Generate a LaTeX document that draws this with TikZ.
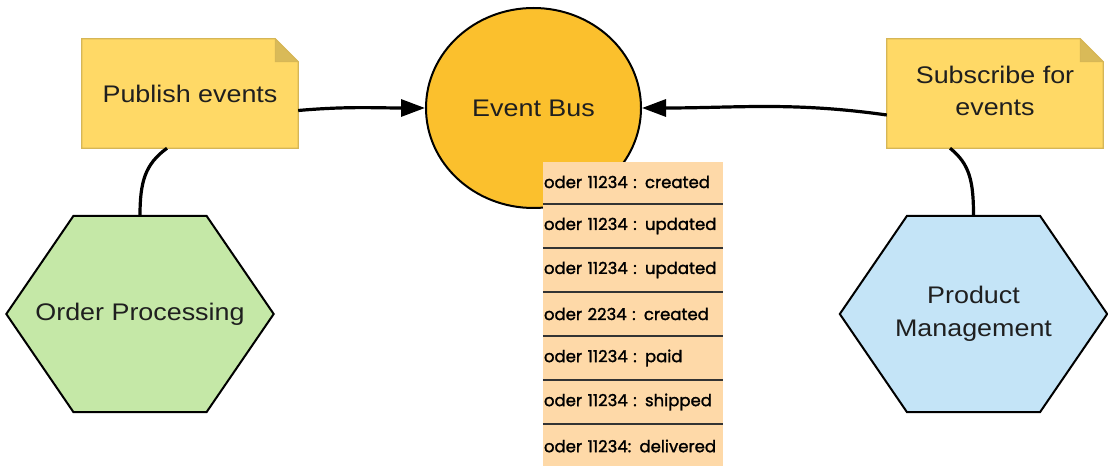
\documentclass[tikz,border=0pt]{standalone}
\usepackage{fontspec}
\usepackage{graphicx}
\setmainfont{Liberation Sans}
\newfontfamily\logfont{Poppins}[FakeBold=1.5]
\usetikzlibrary{shapes.geometric,arrows.meta,calc,backgrounds}
\definecolor{notefill}{RGB}{255,217,102}
\definecolor{noteline}{RGB}{214,182,86}
\definecolor{notefold}{RGB}{217,186,88}
\definecolor{busfill}{RGB}{251,192,45}
\definecolor{greenfill}{RGB}{197,232,167}
\definecolor{bluefill}{RGB}{196,228,247}
\definecolor{peach}{RGB}{254,217,168}
\newcommand\wide[1]{\scalebox{1.12}[1]{#1}}
\begin{document}
\begin{tikzpicture}[x=1pt,y=1pt,
  lbl/.style={font=\fontsize{24}{28}\selectfont, text=black!88},
  notebox/.style={minimum width=216pt, minimum height=109pt, inner sep=0pt},
  hexbox/.style={minimum width=267pt, minimum height=196pt, inner sep=0pt},
  notepath/.style={fill=notefill, draw=noteline, line width=1.2pt},
  foldpath/.style={fill=notefold, draw=noteline, line width=0.8pt},
  hexpath/.style={draw=black, line width=2pt, line join=miter},
  link/.style={draw=black, line width=3.2pt},
  arrowlink/.style={link, -{Triangle[length=24pt,width=17pt]}},
  logrow/.style={minimum width=180pt, minimum height=44pt, inner sep=0pt, text width=178pt, align=left, font=\logfont\fontsize{16.5}{19}\selectfont},
  sepline/.style={draw=black!80, line width=2pt}
]
\useasboundingbox (0,0) rectangle (1108,466);

% notes
\node[notebox, lbl] (pub) at (190,372.5) {\wide{Publish events}};
\node[notebox, lbl] (sub) at (995,372.5) {\wide{\begin{tabular}{@{}c@{}}Subscribe for\\[4pt]events\end{tabular}}};

% hexagons
\node[hexbox, lbl] (op) at (140,152) {\wide{Order Processing}};
\node[hexbox, lbl] (pm) at (973.5,152) {\wide{\begin{tabular}{@{}c@{}}Product\\[5pt]Management\end{tabular}}};

\begin{scope}[on background layer]
  \foreach \n in {pub,sub}{
    \path[notepath] (\n.south west) -- (\n.north west) -- ($(\n.north east)+(-23,0)$)
      -- ($(\n.north east)+(0,-23)$) -- (\n.south east) -- cycle;
    \path[foldpath] ($(\n.north east)+(-23,0)$) -- ($(\n.north east)+(-23,-23)$)
      -- ($(\n.north east)+(0,-23)$) -- cycle;
  }
  \path[hexpath, fill=greenfill] (op.west) -- ($(op.north)+(-66.5,0)$) -- ($(op.north)+(66.5,0)$)
    -- (op.east) -- ($(op.south)+(66.5,0)$) -- ($(op.south)+(-66.5,0)$) -- cycle;
  \path[hexpath, fill=bluefill] (pm.west) -- ($(pm.north)+(-66.5,0)$) -- ($(pm.north)+(66.5,0)$)
    -- (pm.east) -- ($(pm.south)+(66.5,0)$) -- ($(pm.south)+(-66.5,0)$) -- cycle;
\end{scope}

% event bus
\node[ellipse, minimum width=215pt, minimum height=200pt, inner sep=0pt, fill=busfill, draw=black, line width=2pt, lbl] (eb) at (533.5,358) {\wide{Event Bus}};

% connectors
\draw[link] ([xshift=-23pt]pub.south) .. controls +(-22,-16) and +(0,34) .. (op.north);
\draw[link] ([xshift=-45pt]sub.south) .. controls +(20,-16) and +(0,34) .. (pm.north);
\draw[arrowlink] ([yshift=-17pt]pub.east) to[out=5,in=180] (eb.west);
\draw[arrowlink] ([yshift=-21.5pt]sub.west) to[out=172,in=0] (eb.east);

% log
\fill[peach] (543,0) rectangle (723,304);
\node[logrow] (l1) at (633,284) {oder 11234 : created};
\node[logrow] (l2) at (633,240) {oder 11234 : updated};
\node[logrow] (l3) at (633,196) {oder 11234 : updated};
\node[logrow] (l4) at (633,152) {oder 2234 : created};
\node[logrow] (l5) at (633,108) {oder 11234 : paid};
\node[logrow] (l6) at (633,64) {oder 11234 : shipped};
\node[logrow] (l7) at (633,20) {oder 11234: delivered};
\foreach \r in {l1,l2,l3,l4,l5,l6}{
  \draw[sepline] (\r.south west) -- (\r.south east);
}
\end{tikzpicture}
\end{document}
